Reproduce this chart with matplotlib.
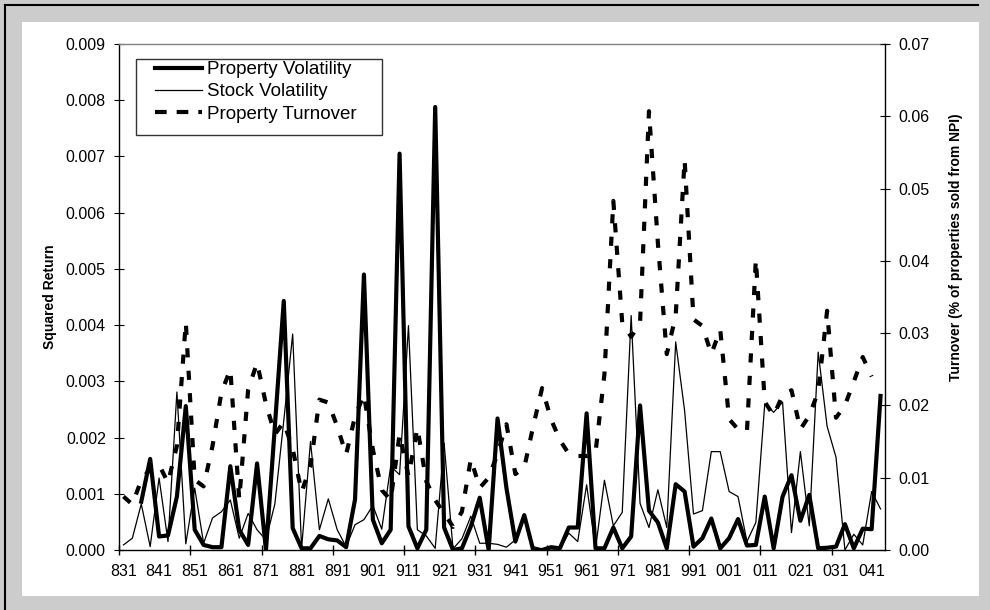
import numpy as np
import matplotlib
matplotlib.use("Agg")
import matplotlib.pyplot as plt
from matplotlib.lines import Line2D
from matplotlib.patches import Rectangle
from matplotlib.ticker import FormatStrFormatter

plt.rcParams['font.family'] = ['Liberation Sans', 'DejaVu Sans']

# quarter labels shown on the axis (year + quarter 1)
year_labels = ['831', '841', '851', '861', '871', '881', '891', '901', '911', '921', '931',
               '941', '951', '961', '971', '981', '991', '001', '011', '021', '031', '041']

# squared quarterly returns, in units of 0.001 (831 .. 042)
prop_vol = [np.nan, np.nan, 0.86, 1.62, 0.24, 0.26, 0.95, 2.56, 0.36, 0.09,
            0.05, 0.05, 1.49, 0.36, 0.09, 1.54, 0.0, 2.2, 4.43, 0.39,
            0.03, 0.03, 0.25, 0.19, 0.17, 0.05, 0.9, 4.9, 0.54, 0.12,
            0.36, 7.05, 0.42, 0.03, 0.36, 7.88, 0.4, 0.0, 0.03, 0.42,
            0.93, 0.0, 2.34, 1.1, 0.15, 0.62, 0.0, 0.0, 0.05, 0.03,
            0.4, 0.4, 2.43, 0.03, 0.03, 0.4, 0.03, 0.24, 2.57, 0.7,
            0.49, 0.03, 1.17, 1.04, 0.06, 0.21, 0.56, 0.03, 0.21, 0.55,
            0.08, 0.09, 0.95, 0.03, 0.95, 1.33, 0.52, 0.98, 0.03, 0.04,
            0.06, 0.46, 0.03, 0.38, 0.37, 2.74]

stock_vol = [0.09, 0.21, 0.82, 0.06, 1.28, 0.15, 2.81, 0.11, 1.1, 0.12,
             0.57, 0.68, 0.89, 0.21, 0.65, 0.36, 0.18, 0.82, 2.3, 3.84,
             0.03, 1.93, 0.36, 0.91, 0.36, 0.06, 0.45, 0.54, 0.79, 0.37,
             1.49, 1.34, 3.99, 0.36, 0.25, 0.03, 1.9, 0.02, 0.2, 0.6,
             0.12, 0.12, 0.1, 0.05, 0.18, 0.62, 0.06, 0.02, 0.02, 0.02,
             0.3, 0.15, 1.16, 0.02, 1.24, 0.43, 0.67, 4.17, 0.83, 0.4,
             1.07, 0.4, 3.7, 2.48, 0.64, 0.7, 1.75, 1.75, 1.04, 0.95,
             0.15, 0.49, 2.6, 2.45, 2.63, 0.31, 1.75, 0.43, 3.52, 2.2,
             1.65, 0.0, 0.28, 0.09, 1.04, 0.73]

# share of NPI properties sold per quarter, in units of 0.01
turnover = [0.74, 0.63, 0.97, 1.12, 1.18, 0.93, 1.44, 3.15, 0.97, 0.88,
            1.44, 2.18, 2.5, 0.7, 2.22, 2.59, 2.02, 1.6, 1.77, 1.4,
            0.8, 1.16, 2.08, 2.04, 1.71, 1.32, 1.85, 2.15, 1.39, 0.83,
            0.69, 1.6, 1.02, 1.69, 0.95, 0.69, 0.51, 0.32, 0.53, 1.26,
            0.86, 1.0, 1.33, 1.74, 1.05, 1.14, 1.71, 2.24, 1.81, 1.52,
            1.33, 1.3, 1.3, 1.35, 2.43, 4.83, 3.14, 2.95, 3.14, 6.07,
            4.25, 2.71, 3.24, 5.4, 3.19, 3.1, 2.71, 3.05, 1.81, 1.67,
            1.64, 4.02, 2.05, 1.86, 2.14, 2.21, 1.67, 1.86, 2.19, 3.31,
            1.83, 2.0, 2.33, 2.67, 2.4, np.nan]

W, H = 990, 610
fig = plt.figure(figsize=(W / 100, H / 100), dpi=100, facecolor='#cccccc')

# white panel and the black frame lines of the pasted chart
fig.add_artist(Rectangle((22 / W, 1 - 596 / H), (979 - 22) / W, (596 - 22) / H,
                         transform=fig.transFigure, facecolor='white',
                         edgecolor='none', zorder=-1))
fig.add_artist(Line2D([5 / W, 978 / W], [1 - 5 / H, 1 - 5 / H],
                      transform=fig.transFigure, color='black', lw=1.5))
fig.add_artist(Line2D([5 / W, 5 / W], [0, 1 - 5 / H],
                      transform=fig.transFigure, color='black', lw=1.5))

ax = fig.add_axes([119 / W, 1 - 550 / H, (885 - 119) / W, (550 - 44) / H])
ax2 = ax.twinx()
ax.patch.set_visible(False)
ax2.patch.set_visible(False)

x = np.arange(len(stock_vol))
ax.plot(x, np.array(prop_vol) * 1e-3, color='black', lw=3)
ax.plot(x, np.array(stock_vol) * 1e-3, color='black', lw=0.9)
dash = (0, (2.2, 3.2))
ax2.plot(x, np.array(turnover) * 1e-2, color='black', lw=3, linestyle=dash)

ax.set_xlim(-0.5, len(x) - 0.5)
ax.set_ylim(0, 0.009)
ax2.set_ylim(0, 0.07)

ax.set_xticks(np.arange(-0.5, len(x), 8))
ax.set_xticks(np.arange(0, len(x), 4), minor=True)
ax.set_xticklabels(year_labels, minor=True)
ax.tick_params(axis='x', which='major', direction='inout', length=7,
               labelbottom=False, width=1)
ax.tick_params(axis='x', which='minor', length=0, pad=10, labelsize=11.5)

ax.set_yticks(np.arange(0, 0.00901, 0.001))
ax.yaxis.set_major_formatter(FormatStrFormatter('%.3f'))
ax.tick_params(axis='y', direction='inout', length=7, pad=6, labelsize=11.5)
ax2.set_yticks(np.arange(0, 0.0701, 0.01))
ax2.yaxis.set_major_formatter(FormatStrFormatter('%.2f'))
ax2.tick_params(axis='y', direction='inout', length=7, pad=6, labelsize=11.5)

ax.spines['top'].set_color('#808080')
ax.spines['right'].set_visible(False)
for s in ['left', 'top', 'bottom']:
    ax2.spines[s].set_visible(False)
for a in (ax, ax2):
    for s in a.spines.values():
        s.set_linewidth(1)

fig.text(50 / W, 1 - 297 / H, 'Squared Return', rotation=90, fontweight='bold',
         fontsize=10, ha='center', va='center')
fig.text(956 / W, 1 - 247 / H, 'Turnover (% of properties sold from NPI)',
         rotation=90, fontweight='bold', fontsize=10, ha='center', va='center')

# legend box drawn by hand, entries from a frameless legend
fig.add_artist(Rectangle((136 / W, 1 - 135 / H), (382 - 136) / W, (135 - 59) / H,
                         transform=fig.transFigure, facecolor='white',
                         edgecolor='#333333', lw=1, zorder=4))
handles = [Line2D([], [], color='black', lw=3),
           Line2D([], [], color='black', lw=0.9),
           Line2D([], [], color='black', lw=3, linestyle=(0, (2.8, 2.4)))]
names = ['Property Volatility', 'Stock Volatility', 'Property Turnover']
leg = fig.legend(handles, names, loc='upper left', bbox_to_anchor=(155 / W, 1 - 61 / H),
                 frameon=False, fontsize=13.5, borderpad=0, borderaxespad=0,
                 handlelength=2.5, handletextpad=0.27, labelspacing=0.28)
leg.set_zorder(5)

fig.savefig('out.png', dpi=100, facecolor=fig.get_facecolor())
